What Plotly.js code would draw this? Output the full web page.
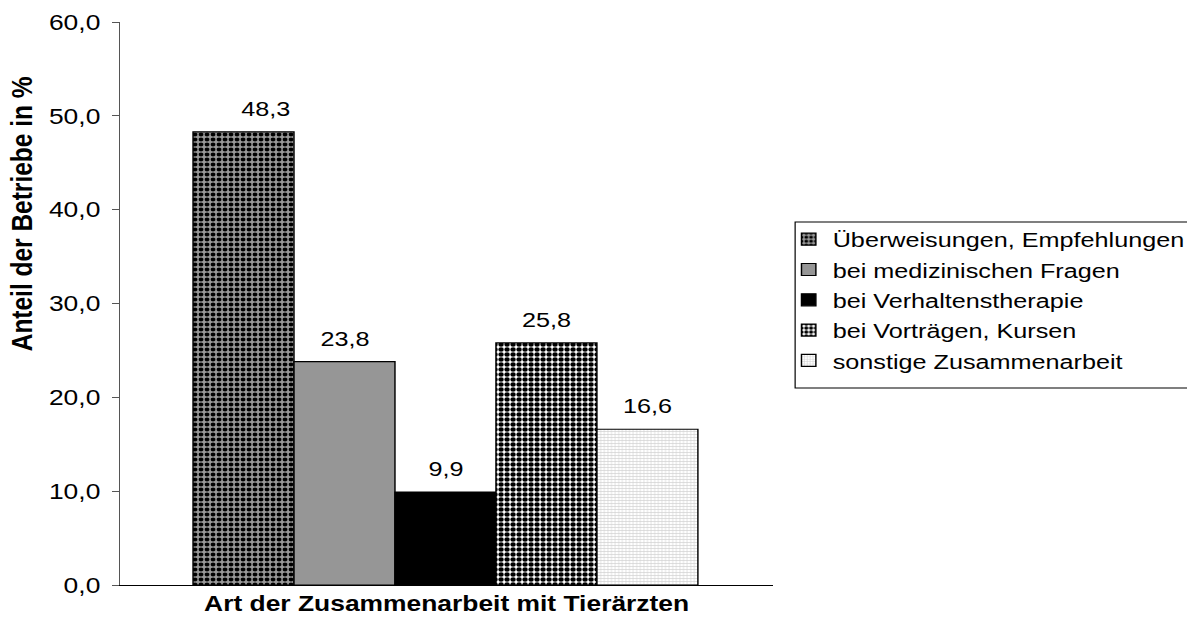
<!DOCTYPE html>
<html>
<head>
<meta charset="utf-8">
<script src="https://cdn.plot.ly/plotly-3.0.1.min.js"></script>
<style>
  html, body { margin: 0; padding: 0; background: #fff; }
  #wrap { width: 1187px; height: 634px; overflow: hidden; }
  #plot { width: 989px; height: 634px; transform: scaleX(1.2002); transform-origin: 0 0; }
</style>
</head>
<body>
<div id="wrap"><div id="plot"></div></div>
<script>
// Data
const seriesNames = [
  "Überweisungen, Empfehlungen",
  "bei medizinischen Fragen",
  "bei Verhaltenstherapie",
  "bei Vorträgen, Kursen",
  "sonstige Zusammenarbeit"
];
const seriesValues = [48.3, 23.8, 9.9, 25.8, 16.6];
const valueLabels = ["48,3", "23,8", "9,9", "25,8", "16,6"];
const yTickValues = [0, 10, 20, 30, 40, 50, 60];
const xTitle = "Art der Zusammenarbeit mit Tierärzten";
const yTitle = "Anteil der Betriebe in %";

// Styles (per series)
const fills = [
  {color: "#999999", pattern: {shape: ".", fgcolor: "#000000", bgcolor: "#999999", size: 5, solidity: 0.5}},
  {color: "#969696"},
  {color: "#000000"},
  {color: "#ffffff", pattern: {shape: ".", fgcolor: "#000000", bgcolor: "#ffffff", size: 5, solidity: 0.6}},
  {color: "#ffffff", pattern: {shape: "+", fgcolor: "#cfcfcf", bgcolor: "#ffffff", size: 3, solidity: 0.35}}
];
const labelShift = [19, 0, 0, 0, 0];

const FONT = "Liberation Sans, Arial, sans-serif";

const traces = seriesNames.map((name, i) => {
  const m = {color: fills[i].color, line: {color: "#000000", width: 1.2}};
  if (fills[i].pattern) m.pattern = Object.assign({fillmode: "replace"}, fills[i].pattern);
  return {
    type: "bar",
    name: name,
    x: [seriesNames[i]],
    y: [seriesValues[i]],
    marker: m,
    width: 1,
    legendgroup: "g" + i,
    hoverinfo: "skip"
  };
});

const annotations = seriesNames.map((name, i) => ({
  x: seriesNames[i], y: seriesValues[i], xref: "x", yref: "y",
  text: valueLabels[i], showarrow: false, yanchor: "bottom", yshift: 10, xshift: labelShift[i],
  font: {family: FONT, size: 21, color: "#000"}
}));
annotations.push({
  xref: "paper", yref: "paper", x: 0.5, y: -0.032, xanchor: "center", yanchor: "middle",
  text: "<b>" + xTitle + "</b>", showarrow: false,
  font: {family: FONT, size: 22, color: "#000"}
});
annotations.push({
  xref: "paper", yref: "paper", x: -0.150, y: 0.659, xanchor: "center", yanchor: "middle",
  text: "<b>" + yTitle + "</b>", showarrow: false, textangle: -90,
  font: {family: FONT, size: 24.5, color: "#000"}
});

const layout = {
  width: 989, height: 634,
  margin: {l: 100, r: 345, t: 22, b: 49, autoexpand: false},
  paper_bgcolor: "#ffffff", plot_bgcolor: "#ffffff",
  separators: ",.",
  barmode: "overlay", bargap: 0,
  showlegend: true,
  legend: {
    x: 1.018, y: 0.650, xanchor: "left", yanchor: "top",
    bgcolor: "rgba(0,0,0,0)", borderwidth: 0,
    font: {family: FONT, size: 21, color: "#000"},
    traceorder: "normal", tracegroupgap: 0
  },
  xaxis: {
    type: "category", range: [-1.223, 5.243],
    showticklabels: false, ticks: "", showgrid: false, zeroline: false,
    showline: true, linecolor: "#000", linewidth: 1, fixedrange: true
  },
  yaxis: {
    range: [0, 60], tickvals: yTickValues, tickformat: ".1f",
    ticks: "outside", ticklen: 6, tickwidth: 1, tickcolor: "#555",
    ticklabelstandoff: 5,
    showgrid: false, zeroline: false, showline: true, linecolor: "#555", linewidth: 1,
    tickfont: {family: FONT, size: 22, color: "#000"}, fixedrange: true
  },
  shapes: [{
    type: "rect", xref: "paper", yref: "paper",
    x0: 1.034, x1: 1.7, y0: 0.35, y1: 0.6448,
    line: {color: "#000", width: 1}, fillcolor: "rgba(0,0,0,0)", layer: "below"
  }],
  annotations: annotations
};

Plotly.newPlot("plot", traces, layout, {staticPlot: true, displayModeBar: false});
</script>
</body>
</html>
